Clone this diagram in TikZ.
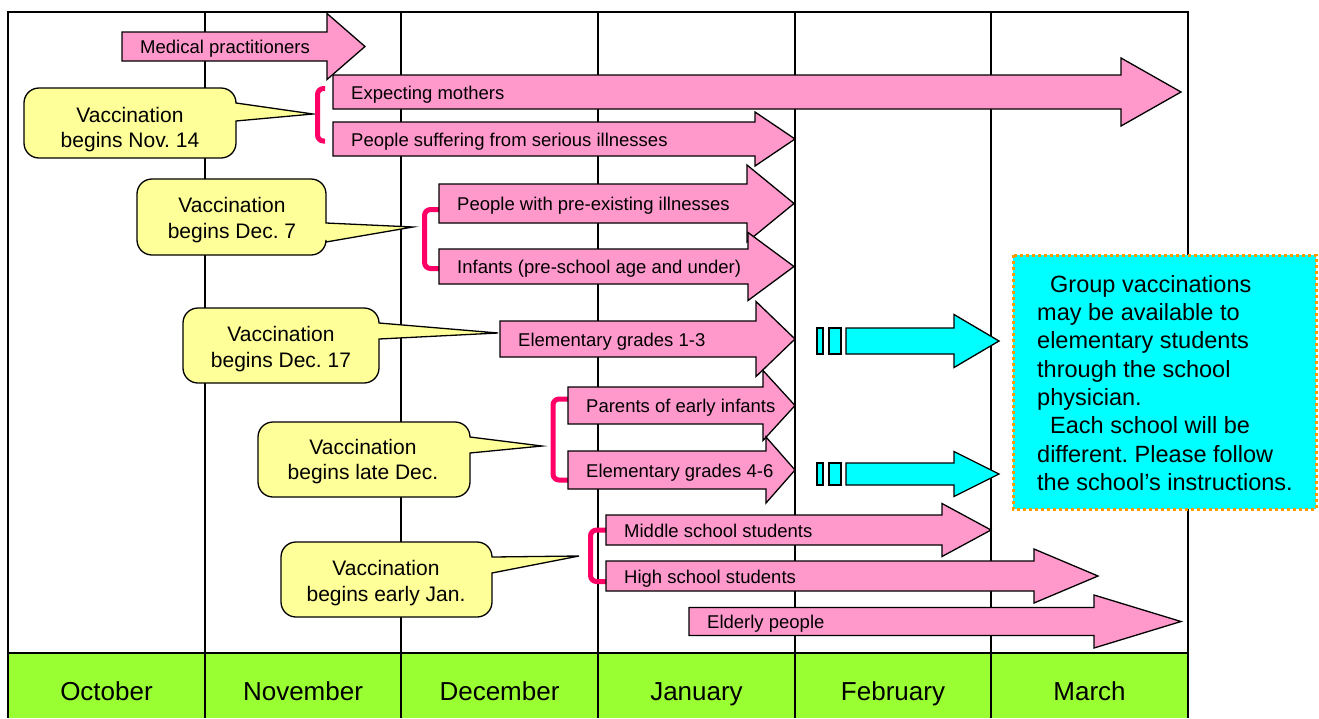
\documentclass[tikz,border=0pt]{standalone}
\usepackage{fontspec}
\setmainfont{Liberation Sans}
\frenchspacing
\definecolor{arrowpink}{HTML}{FF99CC}
\definecolor{calloutyellow}{HTML}{FFFF99}
\definecolor{monthgreen}{HTML}{99FF33}
\definecolor{notecyan}{HTML}{00FFFF}
\definecolor{bracketred}{HTML}{FF0066}
\definecolor{dotorange}{HTML}{FF9900}
\tikzset{
  frameline/.style={draw=black, line width=2pt},
  pinkarrow/.style={fill=arrowpink, draw=black, line width=1.3pt, line join=miter},
  cyanarrow/.style={fill=notecyan, draw=black, line width=1.3pt, line join=miter},
  calloutshape/.style={fill=calloutyellow, draw=black, line width=1.3pt, line join=miter},
  bracketline/.style={draw=bracketred, line width=5pt, rounded corners=6pt},
  arrowlabel/.style={anchor=base west, inner sep=0pt, font=\fontsize{18.5}{22}\selectfont},
  callouttext/.style={align=center, inner sep=0pt, font=\fontsize{21}{25.5}\selectfont},
  monthlabel/.style={anchor=base, inner sep=0pt, font=\fontsize{26}{30}\selectfont},
  notetext/.style={align=left, anchor=north west, inner sep=0pt, font=\fontsize{23.5}{28.3}\selectfont},
  notebox/.style={fill=notecyan, draw=dotorange, line width=3pt, dash pattern=on 3pt off 3pt},
}
% block arrow: [style]{x body left}{x head start}{x tip}{y centre}{body half height}{head half height}
\newcommand\blockarrow[7][pinkarrow]{%
  \path[#1] (#2,#5-#6) -- (#3,#5-#6) -- (#3,#5-#7) -- (#4,#5) -- (#3,#5+#7)
    -- (#3,#5+#6) -- (#2,#5+#6) -- cycle;}
% callout: {xL}{yT}{xR}{yB}{wedge base top}{wedge base bottom}{tip x}{tip y}
% corner radius 15, control offset 6.7
\newcommand\calloutbox[8]{%
  \path[calloutshape] (#1+15,#2) -- (#3-15,#2)
    .. controls (#3-6.7,#2) and (#3,#2+6.7) .. (#3,#2+15)
    -- (#3,#5) -- (#7,#8) -- (#3,#6) -- (#3,#4-15)
    .. controls (#3,#4-6.7) and (#3-6.7,#4) .. (#3-15,#4)
    -- (#1+15,#4)
    .. controls (#1+6.7,#4) and (#1,#4-6.7) .. (#1,#4-15)
    -- (#1,#2+15)
    .. controls (#1,#2+6.7) and (#1+6.7,#2) .. (#1+15,#2) -- cycle;}
\begin{document}
\begin{tikzpicture}[x=1pt,y=-1pt]
\useasboundingbox (0,0) rectangle (1319,718);
% month band and grid
\fill[monthgreen] (8,653) rectangle (1188,718);
\draw[frameline] (8,718) -- (8,12) -- (1188,12) -- (1188,718);
\draw[frameline] (8,653) -- (1188,653);
\foreach \x in {205,401,598,795,991} \draw[frameline] (\x,12) -- (\x,718);
\node[monthlabel] (oct) at (106.5,700) {October};
\node[monthlabel] (nov) at (303,700) {November};
\node[monthlabel] (dec) at (499.5,700) {December};
\node[monthlabel] (jan) at (696.5,700) {January};
\node[monthlabel] (feb) at (893,700) {February};
\node[monthlabel] (mar) at (1089.5,700) {March};

% callouts
\calloutbox{24}{88}{236}{158}{103}{121}{313}{114}
\node[callouttext] (c1) at (130,129.5) {Vaccination\\begins Nov. 14};
\calloutbox{137}{179}{326}{255}{223}{242}{413}{227}
\node[callouttext] (c2) at (232,220) {Vaccination\\begins Dec. 7};
\calloutbox{183}{308}{379}{383}{323}{339}{498}{333}
\node[callouttext] (c3) at (281,349) {Vaccination\\begins Dec. 17};
\calloutbox{258}{422}{470}{497}{437}{453}{542}{446}
\node[callouttext] (c4) at (363,461.5) {Vaccination\\begins late Dec.};
\calloutbox{281}{542}{492}{617}{557}{573}{579}{556}
\node[callouttext] (c5) at (386,583) {Vaccination\\begins early Jan.};

% brackets
\draw[bracketline] (325,88.5) -- (317.5,88.5) -- (317.5,141) -- (325,141);
\draw[bracketline] (440,209.5) -- (424.5,209.5) -- (424.5,268.5) -- (440,268.5);
\draw[bracketline] (569,399) -- (553,399) -- (553,480) -- (569,480);
\draw[bracketline] (607,530) -- (590.5,530) -- (590.5,581.5) -- (607,581.5);

% pink arrows
\blockarrow{333}{1121}{1181}{92}{17}{34}
\node[arrowlabel] (a2) at (351,99) {Expecting mothers};
\blockarrow{122}{327}{365}{46.5}{14.5}{33}
\node[arrowlabel] (a1) at (140,53.5) {Medical practitioners};
\blockarrow{333}{755}{795}{139}{17}{27}
\node[arrowlabel] (a3) at (351,146) {People suffering from serious illnesses};
\blockarrow{439}{747}{794}{203.5}{19.5}{38.5}
\node[arrowlabel] (a4) at (457,210) {People with pre-existing illnesses};
\blockarrow{439}{748}{794}{266.5}{17.5}{34}
\node[arrowlabel] (a5) at (457,273.5) {Infants (pre-school age and under)};
\blockarrow{500}{756}{795}{339}{18}{37.5}
\node[arrowlabel] (a6) at (518,346) {Elementary grades 1-3};
\blockarrow{568}{763}{795}{405.5}{18.5}{35}
\node[arrowlabel] (a7) at (586,412.5) {Parents of early infants};
\blockarrow{568}{766}{795}{470}{19}{33}
\node[arrowlabel] (a8) at (586,477) {Elementary grades 4-6};
\blockarrow{606}{942}{991}{530}{15}{26.5}
\node[arrowlabel] (a9) at (624,537) {Middle school students};
\blockarrow{606}{1034}{1098}{576}{15}{27}
\node[arrowlabel] (a10) at (624,583) {High school students};
\blockarrow{689}{1094}{1181}{621.5}{14}{26.5}
\node[arrowlabel] (a11) at (707,628.5) {Elderly people};

% cyan arrows
\path[cyanarrow] (817,328) rectangle (823,354);
\path[cyanarrow] (829,328) rectangle (841,354);
\blockarrow[cyanarrow]{846}{954}{999}{341}{13}{26.5}
\path[cyanarrow] (817,463) rectangle (823,485);
\path[cyanarrow] (829,463) rectangle (841,485);
\blockarrow[cyanarrow]{846}{954}{999}{474}{11}{22.5}

% note box
\path[notebox] (1013,255) rectangle (1316,509);
\node[notetext] (note) at (1037,275) {\hspace*{13pt}Group vaccinations\\may be available to\\elementary students\\through the school\\physician.\\\hspace*{13pt}Each school will be\\different. Please follow\\the school’s instructions.};
\end{tikzpicture}
\end{document}
